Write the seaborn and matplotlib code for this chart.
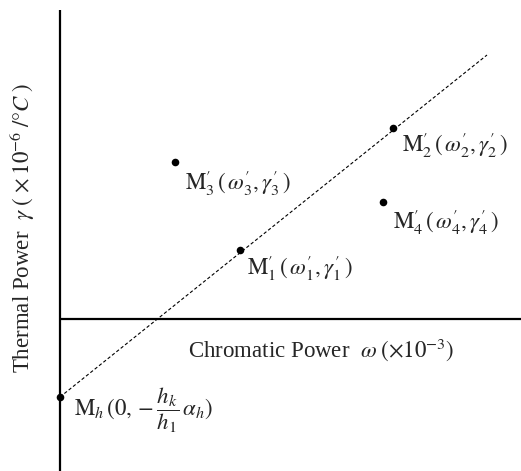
import matplotlib
matplotlib.use("Agg")
import matplotlib.pyplot as plt
import seaborn as sns
import pandas as pd

# data (arbitrary diagram units; origin at axes crossing)
names = ["Mh", "M1", "M2", "M3", "M4"]
omega = [0.0, 18.0, 33.3, 11.5, 32.3]
gamma = [-7.8, 6.9, 19.1, 15.7, 11.7]
labels = [
    r"$\mathrm{M}_h\,(0,-\dfrac{h_k}{h_1}\,\alpha_h)$",
    r"$\mathrm{M}_1^{\prime}\,(\,\omega_1^{\prime},\gamma_1^{\prime}\,)$",
    r"$\mathrm{M}_2^{\prime}\,(\,\omega_2^{\prime},\gamma_2^{\prime}\,)$",
    r"$\mathrm{M}_3^{\prime}\,(\,\omega_3^{\prime},\gamma_3^{\prime}\,)$",
    r"$\mathrm{M}_4^{\prime}\,(\,\omega_4^{\prime},\gamma_4^{\prime}\,)$",
]
line_omega = [0.0, 42.7]
line_gamma = [-7.8, 26.4]
xlabel = r"Chromatic Power  $\omega\;(\times10^{-3})$"
ylabel = r"Thermal Power  $\gamma\;(\,\times10^{-6}\;/{\degree}C\;)$"

sns.set_theme(style="white")
plt.rcParams["font.family"] = ["Liberation Serif", "DejaVu Serif"]
plt.rcParams["mathtext.fontset"] = "stix"

fig = plt.figure(figsize=(5.21, 4.71), dpi=100)
ax = fig.add_axes([0, 0, 1, 1])
ax.set_xlim(-6.0, 46.1)
ax.set_ylim(-15.2, 31.9)
ax.axis("off")

# axes lines
ax.plot([0, 0], [-15.2, 30.9], color="black", lw=1.6, solid_capstyle="butt")
ax.plot([0, 46.1], [0, 0], color="black", lw=1.6, solid_capstyle="butt")

df_line = pd.DataFrame({"omega": line_omega, "gamma": line_gamma})
sns.lineplot(data=df_line, x="omega", y="gamma", ax=ax, color="black",
             lw=0.8, linestyle=(0, (3, 2)), sort=False)

df = pd.DataFrame({"name": names, "omega": omega, "gamma": gamma})
sns.scatterplot(data=df, x="omega", y="gamma", ax=ax, color="black",
                s=30, edgecolor="black", linewidth=0, zorder=5)

offsets = {"Mh": (14, -13), "M1": (7, -18), "M2": (9, -17),
           "M3": (10, -21), "M4": (10, -20)}
for n, x, y, lab in zip(names, omega, gamma, labels):
    ax.annotate(lab, (x, y), xytext=offsets[n], textcoords="offset pixels",
                ha="left", va="center", fontsize=16.5)

ax.text(26.1, -3.1, xlabel, ha="center", va="center", fontsize=16.5)
ax.text(-3.8, 9.1, ylabel, ha="center", va="center", fontsize=16.5, rotation=90)

fig.savefig("out.png", dpi=100)
